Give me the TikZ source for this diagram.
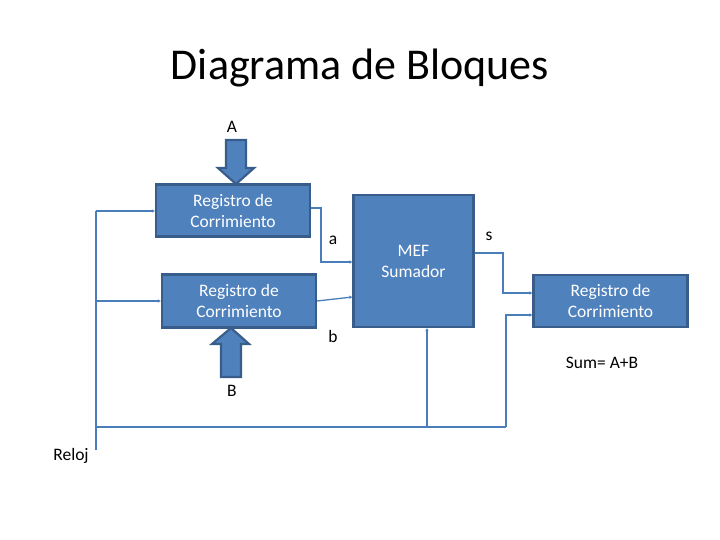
\documentclass[tikz,border=0pt]{standalone}
\usepackage{fontspec}
\setmainfont{Carlito}
\usetikzlibrary{arrows.meta}
\definecolor{boxfill}{HTML}{4F81BD}
\definecolor{boxedge}{HTML}{385D8A}
\definecolor{wire}{HTML}{4A7EBB}
\begin{document}
\begin{tikzpicture}[x=1pt,y=-1pt,
  blk/.style={draw=boxedge,line width=2.2pt,fill=boxfill,text=white,font=\fontsize{17.5}{21}\selectfont,align=center,inner sep=0pt},
  wirestyle/.style={draw=wire,line width=1.3pt},
  tip/.style={wirestyle,-{Triangle[length=3pt,width=3pt]}},
  lbl/.style={font=\fontsize{17.5}{21}\selectfont,inner sep=0pt}]
\useasboundingbox (0,0) rectangle (720,540);
\node[font=\fontsize{44}{52}\selectfont,inner sep=0pt] (title) at (360,68) {Diagrama de Bloques};
% boxes
\node[blk,minimum width=154pt,minimum height=52pt] (r1) at (233,210.5) {Registro de\\Corrimiento};
\node[blk,minimum width=154pt,minimum height=53pt] (r2) at (239,301) {Registro de\\Corrimiento};
\node[blk,minimum width=120pt,minimum height=132pt] (mef) at (413.5,261) {MEF\\Sumador};
\node[blk,minimum width=154pt,minimum height=52pt] (r3) at (610.5,301) {Registro de\\Corrimiento};
% block arrows
\draw[draw=boxedge,line width=2.2pt,fill=boxfill,line join=miter]
  (226,140) -- (246,140) -- (246,168) -- (254,168) -- (236,184) -- (218,168) -- (226,168) -- cycle;
\draw[draw=boxedge,line width=2.2pt,fill=boxfill,line join=miter]
  (221,377) -- (241,377) -- (241,344) -- (249,344) -- (231,328) -- (212,344) -- (221,344) -- cycle;
% labels
\node[lbl] (la) at (232,127) {A};
\node[lbl] (lb) at (232,391) {B};
\node[lbl] (sa) at (333,240) {a};
\node[lbl] (sb) at (333,336) {b};
\node[lbl] (ss) at (489,236) {s};
\node[lbl] (sum) at (602,363) {Sum= A+B};
\node[lbl] (reloj) at (71,456) {Reloj};
% clock coordinates
\coordinate (c1) at (96,211);
\coordinate (c2) at (96,301);
\coordinate (cbot) at (96,450);
\coordinate (b1) at (96,427);
\coordinate (b2) at (427,427);
\coordinate (b3) at (506,427);
% wires
\draw[wirestyle] (cbot) -- (c1);
\draw[tip] (c1) -- (r1.west |- c1);
\draw[tip] (c2) -- (r2.west |- c2);
\draw[wirestyle] (b1) -- (b3);
\draw[tip] (b2) -- (mef.south -| b2);
\draw[tip] (b3) |- (r3.west |- 0,315);
\draw[tip] (r1.east |- 0,208) -- (321,208) |- (mef.west |- 0,262);
\draw[tip] (r2.east |- 0,301) -- (mef.west |- 0,297);
\draw[tip] (mef.east |- 0,253) -- (503,253) |- (r3.west |- 0,293);
\end{tikzpicture}
\end{document}
